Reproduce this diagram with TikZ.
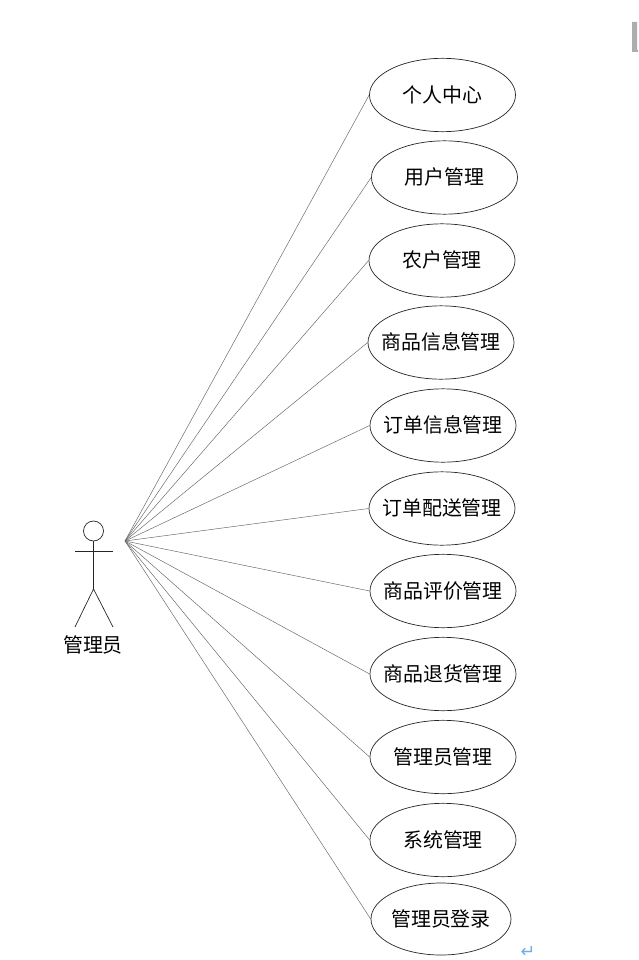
\documentclass[tikz,border=0pt]{standalone}
\usepackage{fontspec}
\setmainfont{Noto Sans CJK SC}
\newfontfamily\symfont{DejaVu Sans}
\usepackage{tikz}
\usetikzlibrary{shapes.geometric}
\definecolor{markblue}{RGB}{110,175,235}
\newcommand{\uclabel}[1]{\raisebox{-6.1pt}[0pt][0pt]{\makebox[0pt]{#1}}}

\begin{document}
\begin{tikzpicture}[
  x=0.03cm, y=-0.03cm,
  usecase/.style={draw=black!85, ellipse, fill=white, inner sep=0pt, line width=0.6pt,
                  minimum width=4.38cm, minimum height=2.2cm,
                  font=\fontsize{17}{18}\selectfont},
  link/.style={draw=black!60, line width=0.4pt},
  actor/.style={draw=black!85, line width=0.6pt},
  lbl/.style={font=\fontsize{17}{18}\selectfont, inner sep=0pt}
]
  \useasboundingbox (0, 0) rectangle (638, 960);

  % ========== ACTOR ==========
  \node[actor, circle, minimum size=0.6cm, inner sep=0pt] (head) at (93.5, 531) {};
  \coordinate (neck) at (93.5, 589);
  \coordinate (armL) at (75, 551);
  \coordinate (armR) at (113, 551);
  \coordinate (footL) at (75, 627);
  \coordinate (footR) at (113, 627);
  \coordinate (hub) at (125, 541);
  \draw[actor] (head.south) -- (neck);
  \draw[actor] (armL) -- (armR);
  \draw[actor] (footL) -- (neck) -- (footR);
  \node[lbl] (admin) at (93, 644.5) {管理员};

  % ========== USE CASES ==========
  \node[usecase] (center) at (442.5, 95) {\uclabel{个人中心}};
  \node[usecase] (user) at (444.5, 177.5) {\uclabel{用户管理}};
  \node[usecase] (farmer) at (442, 260.5) {\uclabel{农户管理}};
  \node[usecase] (goods) at (441, 342.5) {\uclabel{商品信息管理}};
  \node[usecase] (order) at (443, 425.5) {\uclabel{订单信息管理}};
  \node[usecase] (ship) at (442, 508.5) {\uclabel{订单配送管理}};
  \node[usecase] (review) at (443, 591) {\uclabel{商品评价管理}};
  \node[usecase] (refund) at (443, 674) {\uclabel{商品退货管理}};
  \node[usecase] (manager) at (443, 757) {\uclabel{管理员管理}};
  \node[usecase] (system) at (443, 840) {\uclabel{系统管理}};
  \node[usecase, minimum width=4.2cm, minimum height=2.16cm] (login) at (441, 919) {\uclabel{管理员登录}};

  % ======== LINKS ========
  \draw[link] (hub) -- (center.west);
  \draw[link] (hub) -- (user.west);
  \draw[link] (hub) -- (farmer.west);
  \draw[link] (hub) -- (goods.west);
  \draw[link] (hub) -- (order.west);
  \draw[link] (hub) -- (ship.west);
  \draw[link] (hub) -- (review.west);
  \draw[link] (hub) -- (refund.west);
  \draw[link] (hub) -- (manager.west);
  \draw[link] (hub) -- (system.west);
  \draw[link] (hub) -- (login.west);

  % ======== PAGE MARKS ========
  \fill[black!32] (632, 22) -- (637, 22) -- (637, 50) -- (638, 50) -- (638, 52) -- (632, 52) -- cycle;
  \node[font=\symfont\fontsize{15}{16}\selectfont, text=markblue, inner sep=0pt] (mark) at (528, 952) {↵};
\end{tikzpicture}
\end{document}
